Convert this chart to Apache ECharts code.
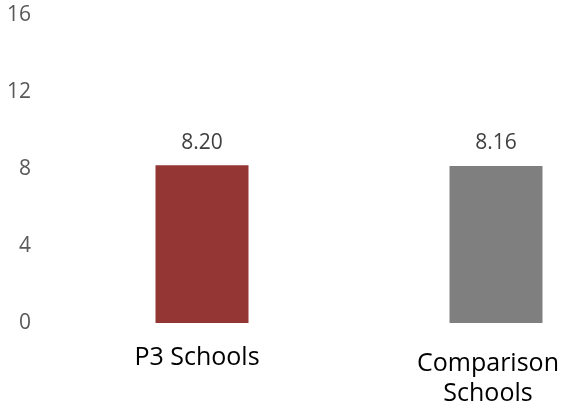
<!DOCTYPE html>
<html>
<head>
<meta charset="utf-8">
<script src="https://cdn.jsdelivr.net/npm/echarts@6/dist/echarts.min.js"></script>
<style>
  html, body { margin: 0; padding: 0; background: #fff; }
  #chart { width: 561px; height: 410px; }
</style>
</head>
<body>
<div id="chart"></div>
<script>
// School groups and their mean scores
const categories = ['P3 Schools', 'Comparison\nSchools'];
const scores = [8.20, 8.16];
const barColors = ['#943634', '#7f7f7f'];
const yTicks = [0, 4, 8, 12, 16];

// nudge each category label so the wrapped one stays inside the frame
const labelPadding = [[0, 10, 0, 0], [6, 16, 0, 0]];

const chart = echarts.init(document.getElementById('chart'));

chart.setOption({
  animation: false,
  grid: { left: 55, top: 15, bottom: 87, width: 588, containLabel: false, outerBoundsMode: 'none' },
  xAxis: {
    type: 'category',
    data: categories.map((c, i) => ({ value: c, textStyle: { padding: labelPadding[i] } })),
    axisLine: { show: false },
    axisTick: { show: false },
    axisLabel: {
      margin: 20,
      fontFamily: 'Open Sans',
      fontSize: 25,
      lineHeight: 30,
      color: '#000000',
      interval: 0
    }
  },
  yAxis: {
    type: 'value',
    min: yTicks[0],
    max: yTicks[yTicks.length - 1],
    interval: yTicks[1] - yTicks[0],
    splitLine: { show: false },
    axisLine: { show: false },
    axisTick: { show: false },
    axisLabel: {
      margin: 24,
      fontFamily: 'Open Sans',
      fontSize: 21,
      color: '#595959'
    }
  },
  series: [{
    type: 'bar',
    barWidth: 93,
    data: scores.map((v, i) => ({ value: v, itemStyle: { color: barColors[i] } })),
    label: {
      show: true,
      position: 'top',
      distance: 12,
      fontFamily: 'Open Sans',
      fontSize: 21,
      color: '#404040',
      formatter: p => p.value.toFixed(2)
    }
  }]
});
</script>
</body>
</html>
